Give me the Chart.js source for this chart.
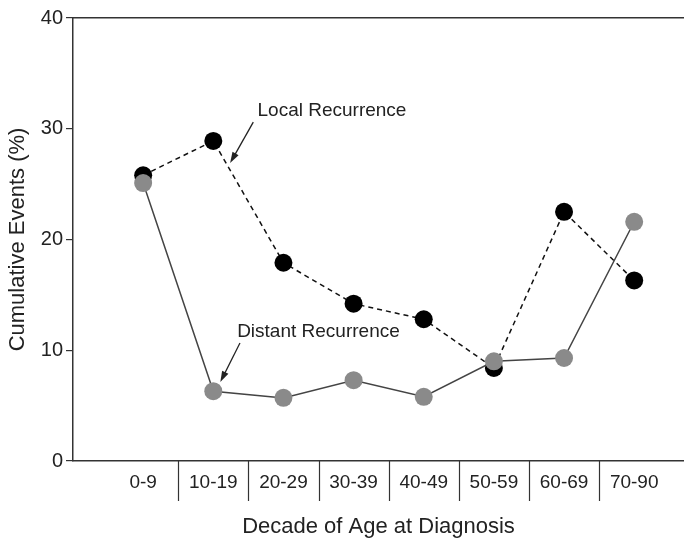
<!DOCTYPE html>
<html>
<head>
<meta charset="utf-8">
<script src="https://cdn.jsdelivr.net/npm/chart.js@4"></script>
<style>
  body { margin: 0; background: #fff; }
  canvas { display: block; }
</style>
</head>
<body>
<canvas id="chart" width="684" height="546"></canvas>
<script>
//Data
var ageGroups = ["0-9", "10-19", "20-29", "30-39", "40-49", "50-59", "60-69", "70-90"];
var localRecurrence = [25.8, 28.9, 17.9, 14.2, 12.8, 8.4, 22.5, 16.3];
var distantRecurrence = [25.1, 6.3, 5.7, 7.3, 5.8, 9.0, 9.3, 21.6];
var yTicks = [0, 10, 20, 30, 40];

var font = "'Liberation Sans', Arial, sans-serif";
var ink = "#222";
var axisColor = "#333";
var xMin = -1, xMax = 7.71;

function toPoints(values) {
  return values.map(function(v, i) { return { x: i, y: v }; });
}

//Separators under the x axis and the two arrow labels
var extras = {
  id: 'extras',
  afterDraw: function(chart) {
    var c = chart.ctx;
    var x = chart.scales.x;
    var y = chart.scales.y;
    c.save();
    c.strokeStyle = axisColor;
    c.lineWidth = 1.2;
    for (var i = 0; i < ageGroups.length - 1; i++) {
      var px = Math.round(x.getPixelForValue(i + 0.5)) + 0.5;
      c.beginPath();
      c.moveTo(px, x.top);
      c.lineTo(px, x.top + 40);
      c.stroke();
    }

    function label(text, vx, vy, fromX, fromY, toX, toY) {
      c.fillStyle = ink;
      c.font = "19px " + font;
      c.textAlign = "left";
      c.textBaseline = "middle";
      c.fillText(text, x.getPixelForValue(vx), y.getPixelForValue(vy));
      var x1 = x.getPixelForValue(fromX), y1 = y.getPixelForValue(fromY);
      var x2 = x.getPixelForValue(toX), y2 = y.getPixelForValue(toY);
      var a = Math.atan2(y2 - y1, x2 - x1);
      c.strokeStyle = ink;
      c.lineWidth = 1.3;
      c.beginPath();
      c.moveTo(x1, y1);
      c.lineTo(x2 - 6 * Math.cos(a), y2 - 6 * Math.sin(a));
      c.stroke();
      c.beginPath();
      c.moveTo(x2, y2);
      c.lineTo(x2 - 11 * Math.cos(a) + 3.5 * Math.sin(a), y2 - 11 * Math.sin(a) - 3.5 * Math.cos(a));
      c.lineTo(x2 - 11 * Math.cos(a) - 3.5 * Math.sin(a), y2 - 11 * Math.sin(a) + 3.5 * Math.cos(a));
      c.closePath();
      c.fill();
    }
    label("Local Recurrence", 1.63, 31.6, 1.57, 30.6, 1.24, 26.9);
    label("Distant Recurrence", 1.34, 11.65, 1.38, 10.65, 1.10, 7.13);
    c.restore();
  }
};

var ctx = document.getElementById("chart").getContext('2d');

var myChart = new Chart(ctx, {
  type: 'line',
  data: {
    datasets: [{
      label: "Distant Recurrence",
      data: toPoints(distantRecurrence),
      borderColor: "#444",
      borderWidth: 1.5,
      backgroundColor: "rgb(138, 138, 138)",
      pointBackgroundColor: "rgb(138, 138, 138)",
      pointBorderColor: "rgb(138, 138, 138)",
      pointRadius: 9,
      pointBorderWidth: 0,
      tension: 0,
      order: 0
    }, {
      label: "Local Recurrence",
      data: toPoints(localRecurrence),
      borderColor: "#111",
      borderWidth: 1.5,
      borderDash: [5, 4],
      backgroundColor: "#000",
      pointBackgroundColor: "#000",
      pointBorderColor: "#000",
      pointRadius: 9,
      pointBorderWidth: 0,
      tension: 0,
      order: 1
    }]
  },
  options: {
    responsive: false,
    animation: false,
    devicePixelRatio: 1,
    layout: { padding: 0, autoPadding: false },
    plugins: {
      legend: { display: false },
      tooltip: { enabled: false }
    },
    scales: {
      x: {
        type: 'linear',
        position: 'bottom',
        min: xMin,
        max: xMax,
        afterBuildTicks: function(scale) {
          scale.ticks = ageGroups.map(function(g, i) { return { value: i }; });
        },
        afterFit: function(scale) { scale.height = 85; },
        grid: { display: false, drawTicks: false, tickLength: 0 },
        border: { display: true, color: axisColor, width: 1.5 },
        ticks: {
          autoSkip: false,
          maxRotation: 0,
          padding: 10,
          color: ink,
          font: { family: font, size: 19 },
          callback: function(value) { return ageGroups[value]; }
        },
        title: {
          display: true,
          text: "Decade of Age at Diagnosis",
          color: ink,
          font: { family: font, size: 22 },
          padding: { top: 0, bottom: 6 }
        }
      },
      x2: {
        type: 'linear',
        position: 'top',
        min: xMin,
        max: xMax,
        afterFit: function(scale) { scale.height = 18; },
        grid: { display: false },
        border: { display: true, color: axisColor, width: 1.5 },
        ticks: { display: false }
      },
      y: {
        min: 0,
        max: 40,
        afterBuildTicks: function(scale) {
          scale.ticks = yTicks.map(function(v) { return { value: v }; });
        },
        afterFit: function(scale) { scale.width = 73; },
        grid: { drawOnChartArea: false, tickLength: 7, color: axisColor, lineWidth: 1.2 },
        border: { display: true, color: axisColor, width: 1.5 },
        ticks: {
          padding: 3,
          color: ink,
          font: { family: font, size: 20 }
        },
        title: {
          display: true,
          text: "Cumulative Events (%)",
          color: ink,
          font: { family: font, size: 22 },
          padding: { top: 5, bottom: 0 }
        }
      }
    }
  },
  plugins: [extras]
});
</script>
</body>
</html>
